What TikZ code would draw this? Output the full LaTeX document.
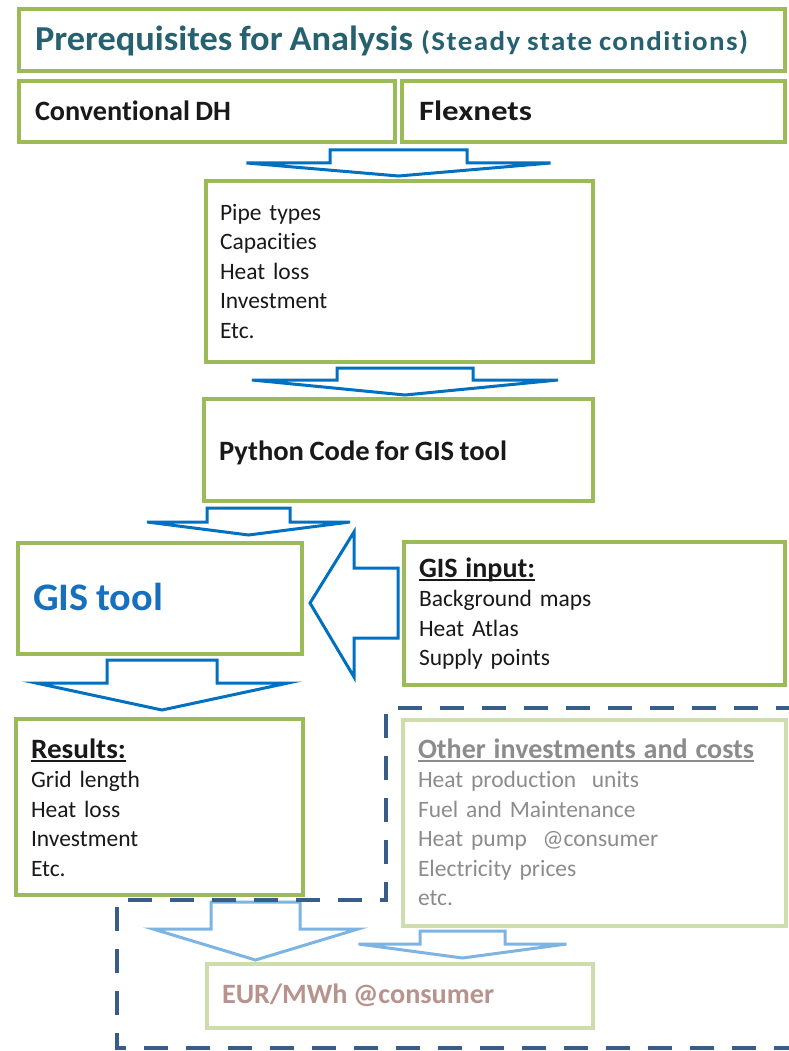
\documentclass[tikz,border=0pt]{standalone}
\usepackage{fontspec}
\setmainfont{Carlito}[Ligatures={NoCommon,NoRequired,NoContextual}, RawFeature=-calt, RawFeature=-clig, WordSpace=0.85]
\usepackage{graphicx}
\usetikzlibrary{calc}

\definecolor{boxgreen}{RGB}{155,187,89}
\definecolor{palegreen}{RGB}{205,222,172}
\definecolor{arrowblue}{RGB}{0,112,192}
\definecolor{lightblue}{RGB}{125,180,225}
\definecolor{dashblue}{RGB}{56,93,138}
\definecolor{titleteal}{RGB}{38,97,112}
\definecolor{greytext}{RGB}{140,140,140}
\definecolor{eurtext}{RGB}{184,146,140}
\definecolor{gistext}{RGB}{23,112,189}
\definecolor{bodytext}{RGB}{25,25,25}

\newcommand\fitto[2]{\resizebox{#1pt}{\height}{#2}}
\newcommand\ulx[1]{\setbox0=\hbox{#1}\rlap{\rule[-3.5pt]{\wd0}{1.8pt}}\box0}
% style, tip, shaft half width, head half width, head height, total height
\newcommand\blockdown[6]{%
  \draw[#1] ($(#2)+(-#3,-#6)$) -- ($(#2)+(#3,-#6)$) -- ($(#2)+(#3,-#5)$)
    -- ($(#2)+(#4,-#5)$) -- (#2) -- ($(#2)+(-#4,-#5)$) -- ($(#2)+(-#3,-#5)$) -- cycle;}

\tikzset{
  gbox/.style={draw=boxgreen, line width=3.5pt, fill=white, rectangle,
    inner sep=0pt, outer sep=0pt, anchor=north west},
  pbox/.style={gbox, draw=palegreen},
  barrow/.style={draw=arrowblue, line width=3pt, fill=white},
  larrow/.style={draw=lightblue, line width=3pt, fill=white},
  dashframe/.style={draw=dashblue, line width=4pt, dash pattern=on 24pt off 18pt},
  txt/.style={inner sep=0pt, outer sep=0pt, anchor=base west, text=bodytext},
  lst/.style={txt, text width=360pt, align=left, font=\fontsize{23.5}{29.5}\selectfont},
  hbold/.style={font=\bfseries\fontsize{28}{32}\selectfont},
}

\begin{document}
\begin{tikzpicture}[x=1pt, y=-1pt]
\useasboundingbox[fill=white] (0,0) rectangle (788,1051);

% boxes
\node[gbox, minimum width=766pt, minimum height=62pt] (title) at (19,9) {};
\node[gbox, minimum width=376pt, minimum height=61pt] (conv) at (19,81) {};
\node[gbox, minimum width=383pt, minimum height=61pt] (flex) at (402,81) {};
\node[gbox, minimum width=387pt, minimum height=181pt] (pipes) at (206,181) {};
\node[gbox, minimum width=389pt, minimum height=102pt] (python) at (204,399) {};
\node[gbox, minimum width=284pt, minimum height=111pt] (gis) at (18,543) {};
\node[gbox, minimum width=381pt, minimum height=143pt] (gisin) at (404,542) {};
\node[gbox, minimum width=287pt, minimum height=176pt] (results) at (16,719) {};
\node[pbox, minimum width=383pt, minimum height=206pt] (other) at (403,720) {};
\node[pbox, minimum width=386pt, minimum height=64pt] (eur) at (207,964) {};

% texts
\node[txt, text=titleteal, font=\bfseries\fontsize{35}{40}\selectfont] (ttl) at (35,51)
  {\fitto{378}{Prerequisites for Analysis}\hspace{8pt}{\fontsize{27}{30}\selectfont\addfontfeature{LetterSpace=5}\fitto{327}{(Steady state conditions)}}};
\node[txt, hbold] (convt) at (35,121) {\fitto{196}{Conventional DH}};
\node[txt, hbold] (flext) at (419,121) {\fitto{113}{Flexnets}};
\node[lst] (pipest) at (220,220) {Pipe types\\Capacities\\Heat loss\\Investment\\Etc.};
\node[txt, hbold] (pythont) at (219,460) {\fitto{288}{Python Code for GIS tool}};
\node[txt, text=gistext, font=\bfseries\fontsize{39}{44}\selectfont] (gist) at (33,610) {\fitto{130}{GIS tool}};
\node[lst] (gisint) at (419,577) {{\bfseries\fontsize{28}{32}\selectfont\ulx{\fitto{116}{GIS input:}}}\\Background maps\\Heat Atlas\\Supply points};
\node[lst] (resultst) at (31,758) {{\bfseries\fontsize{28}{32}\selectfont\ulx{\fitto{95}{Results:}}}\\Grid length\\Heat loss\\Investment\\Etc.};
\node[lst, text=greytext] (othert) at (418,758) {{\bfseries\fontsize{28}{32}\selectfont\ulx{\fitto{336}{Other investments and costs}}}\\Heat production\ \ units\\Fuel and Maintenance\\Heat pump\ \ @consumer\\Electricity prices\\etc.};
\node[txt, text=eurtext, font=\bfseries\fontsize{28}{32}\selectfont] (eurt) at (222,1003) {\fitto{272}{EUR/MWh @consumer}};

% block arrows
\coordinate (a1) at (398.5,176);
\coordinate (a2) at (405,395);
\coordinate (a3) at (248.5,535);
\coordinate (a4) at (162,710);
\coordinate (a5) at (255.5,960);
\coordinate (a6) at (462.5,958);
\blockdown{barrow}{a1}{68.5}{152}{13}{26}
\blockdown{barrow}{a2}{68}{153}{15}{27}
\blockdown{barrow}{a3}{41.5}{101.5}{13}{27}
\blockdown{barrow}{a4}{55}{126}{27}{50}
\blockdown{larrow}{a5}{44.5}{102.5}{31}{58}
\blockdown{larrow}{a6}{42.5}{104}{14}{27}

% left arrow from GIS input to GIS tool
\coordinate (lt) at (310,603);
\draw[barrow] (lt) -- ($(lt)+(44,-71)$) -- ($(lt)+(44,-35)$) -- ($(lt)+(88,-35)$)
  -- ($(lt)+(88,35)$) -- ($(lt)+(44,35)$) -- ($(lt)+(44,74)$) -- cycle;

% dashed frame
\draw[dashframe] (800,708) -- (386,708) -- (386,900) -- (117,900) -- (117,1048) -- (800,1048);
\end{tikzpicture}
\end{document}
